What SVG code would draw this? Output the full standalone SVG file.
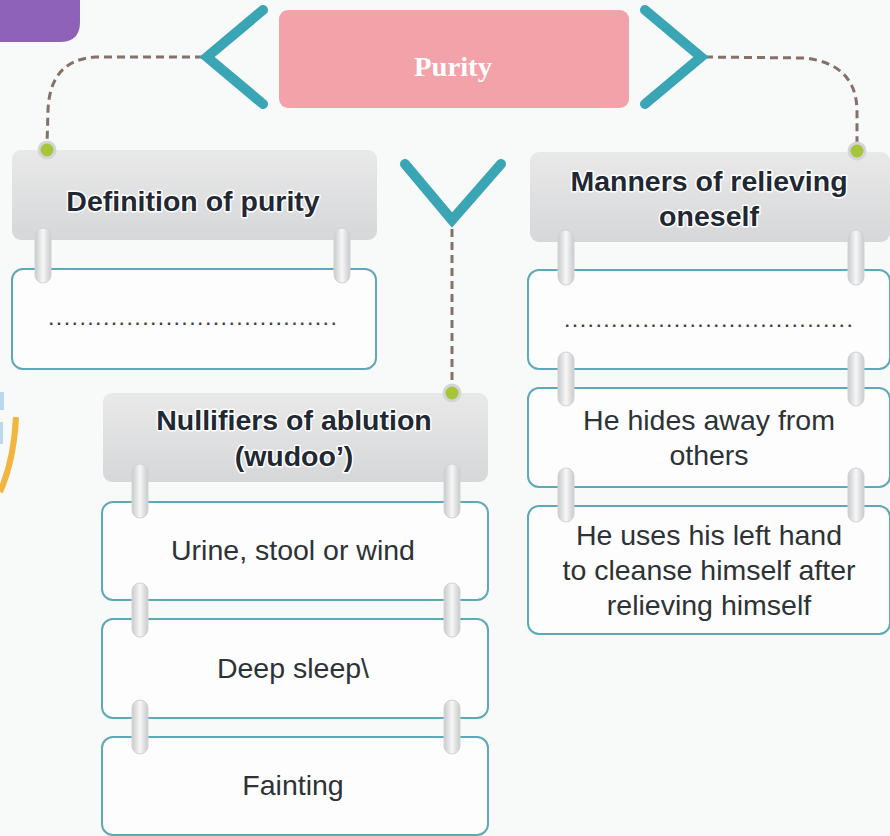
<svg xmlns="http://www.w3.org/2000/svg" width="890" height="836" viewBox="0 0 890 836">
<defs>
<linearGradient id="hdr" x1="0" y1="0" x2="0" y2="1">
<stop offset="0" stop-color="#e9e9ea"/><stop offset="1" stop-color="#d6d7d8"/>
</linearGradient>
<linearGradient id="ring" x1="0" y1="0" x2="1" y2="0">
<stop offset="0" stop-color="#c9cacc"/><stop offset="0.5" stop-color="#f7f7f7"/><stop offset="1" stop-color="#c9cacc"/>
</linearGradient>
</defs>
<style>
.hdr{fill:url(#hdr);}
.box{fill:#fdfdfd;stroke:#5ea9b7;stroke-width:2;}
.ring{fill:url(#ring);stroke:#d2d3d5;stroke-width:1;}
.ht{font-family:"Liberation Sans",Arial,sans-serif;font-weight:bold;font-size:28.5px;fill:#1f2833;text-anchor:middle;stroke:#ffffff;stroke-width:3;paint-order:stroke;stroke-linejoin:round;}
.bt{font-family:"Liberation Sans",Arial,sans-serif;font-size:28.5px;fill:#2d3236;text-anchor:middle;}
.dots{font-family:"Liberation Sans",Arial,sans-serif;font-size:16px;font-weight:bold;fill:#3a3f44;letter-spacing:3.4px;}
.chev{fill:none;stroke:#3aa5b4;stroke-width:10;stroke-linecap:round;stroke-linejoin:miter;}
.conn{fill:none;stroke:#85706a;stroke-width:3;stroke-dasharray:8 5;}
.dot{fill:#a6c53a;stroke:#d4d5d7;stroke-width:3;}
</style>
<rect width="890" height="836" fill="#f8f9f9"/>
<path d="M0,0 H80 V22 Q80,42 60,42 H0 Z" fill="#8d62b8"/>
<path d="M16,417 Q14,460 0,492" fill="none" stroke="#f0b640" stroke-width="6"/>
<rect x="0" y="392" width="4" height="18" fill="#bcd6ec"/>
<rect x="0" y="422" width="3" height="22" fill="#bcd6ec"/>

<g id="connectors">
<path class="conn" d="M203,57 L95,57 Q50,60 48,110 L47,145"/>
<path class="conn" d="M705,57 L805,58 Q856,64 857,110 L857,145"/>
<path class="conn" d="M452,229 L452,386"/>
</g>

<g id="purity">
<rect x="279" y="10" width="350" height="98" rx="9" fill="#f4a2aa"/>
<text x="453" y="76" font-family="'Liberation Serif','Times New Roman',serif" font-weight="bold" font-size="28" fill="#ffffff" text-anchor="middle" textLength="78" lengthAdjust="spacingAndGlyphs">Purity</text>
<polyline class="chev" points="263,10 207,57 263,104"/>
<polyline class="chev" points="645,10 701,57 645,104"/>
<polyline class="chev" points="405,164 452,220 501,164"/>
</g>

<g id="definition">
<rect class="hdr" x="12" y="150" width="365" height="90" rx="9"/>
<text class="ht" x="193" y="211">Definition of purity</text>
<rect class="box" x="12" y="269" width="364" height="100" rx="11"/>
<text class="dots" x="49" y="325">.....................................</text>
<rect class="ring" x="35" y="228" width="16" height="55" rx="8"/>
<rect class="ring" x="334" y="228" width="16" height="55" rx="8"/>
<circle class="dot" cx="47" cy="150" r="8"/>
</g>

<g id="manners">
<rect class="hdr" x="530" y="152" width="360" height="90" rx="9"/>
<text class="ht" x="709" y="191">Manners of relieving</text>
<text class="ht" x="709" y="226">oneself</text>
<rect class="box" x="528" y="270" width="362" height="99" rx="11"/>
<text class="dots" x="565" y="327">.....................................</text>
<rect class="box" x="528" y="388" width="362" height="99" rx="11"/>
<text class="bt" x="709" y="430">He hides away from</text>
<text class="bt" x="709" y="465">others</text>
<rect class="box" x="528" y="506" width="362" height="128" rx="11"/>
<text class="bt" x="709" y="545">He uses his left hand</text>
<text class="bt" x="709" y="580">to cleanse himself after</text>
<text class="bt" x="709" y="615">relieving himself</text>
<rect class="ring" x="558" y="230" width="16" height="55" rx="8"/>
<rect class="ring" x="848" y="230" width="16" height="55" rx="8"/>
<rect class="ring" x="558" y="352" width="16" height="54" rx="8"/>
<rect class="ring" x="848" y="352" width="16" height="54" rx="8"/>
<rect class="ring" x="558" y="468" width="16" height="54" rx="8"/>
<rect class="ring" x="848" y="468" width="16" height="54" rx="8"/>
<circle class="dot" cx="857" cy="151" r="8"/>
</g>

<g id="nullifiers">
<rect class="hdr" x="103" y="393" width="385" height="89" rx="9"/>
<text class="ht" x="294" y="430">Nullifiers of ablution</text>
<text class="ht" x="294" y="466">(wudoo’)</text>
<rect class="box" x="102" y="502" width="386" height="98" rx="11"/>
<text class="bt" x="293" y="560">Urine, stool or wind</text>
<rect class="box" x="102" y="619" width="386" height="99" rx="11"/>
<text class="bt" x="293" y="678">Deep sleep\</text>
<rect class="box" x="102" y="737" width="386" height="98" rx="11"/>
<text class="bt" x="293" y="795">Fainting</text>
<rect class="ring" x="132" y="464" width="16" height="54" rx="8"/>
<rect class="ring" x="444" y="464" width="16" height="54" rx="8"/>
<rect class="ring" x="132" y="583" width="16" height="54" rx="8"/>
<rect class="ring" x="444" y="583" width="16" height="54" rx="8"/>
<rect class="ring" x="132" y="700" width="16" height="54" rx="8"/>
<rect class="ring" x="444" y="700" width="16" height="54" rx="8"/>
<circle class="dot" cx="452" cy="393" r="8"/>
</g>
</svg>
